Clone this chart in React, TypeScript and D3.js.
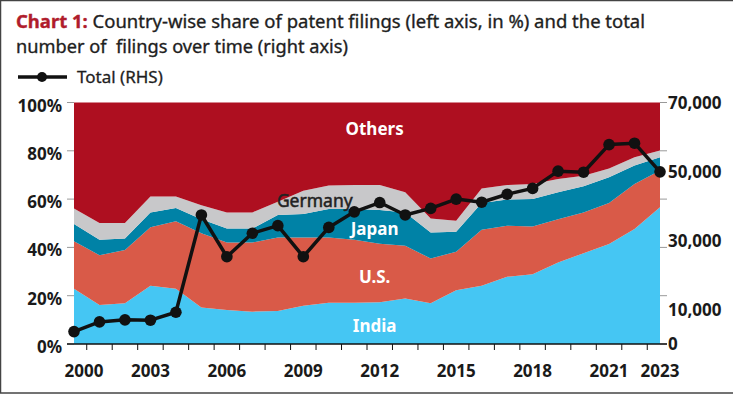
import * as d3 from "d3";

// years on the x axis
const years = [
  2000, 2001, 2002, 2003, 2004, 2005, 2006, 2007, 2008, 2009, 2010, 2011,
  2012, 2013, 2014, 2015, 2016, 2017, 2018, 2019, 2020, 2021, 2022, 2023,
];

// country shares of filings, in %
const indiaShare = [
  22.9, 16.2, 16.9, 24.1, 22.9, 15.1, 14.1, 13.4, 13.7, 15.8, 17.1, 17.1,
  17.3, 18.8, 16.9, 22.3, 24.1, 27.8, 28.9, 33.7, 37.6, 41.4, 47.6, 56.6,
];
const usShare = [
  19.6, 20.6, 22.0, 24.2, 27.9, 30.8, 27.9, 28.6, 30.4, 28.3, 27.0, 26.1,
  24.2, 21.9, 18.5, 15.9, 23.2, 21.2, 19.8, 18.0, 16.9, 17.0, 18.7, 15.2,
];
const japanShare = [
  7.2, 6.4, 4.8, 6.2, 5.5, 5.8, 5.8, 5.8, 9.3, 9.7, 11.8, 12.7,
  14.0, 13.8, 10.8, 8.3, 11.1, 10.8, 11.3, 11.1, 10.8, 10.6, 7.6, 5.5,
];
const germanyShare = [
  6.4, 6.9, 6.4, 6.6, 4.8, 5.8, 6.7, 6.7, 5.5, 9.7, 9.7, 9.9,
  10.3, 8.3, 5.8, 4.5, 6.0, 6.0, 6.3, 5.5, 4.4, 3.7, 3.4, 2.8,
];
const othersShare = [
  43.9, 49.9, 49.9, 38.9, 38.9, 42.5, 45.5, 45.5, 41.1, 36.5, 34.4, 34.2,
  34.2, 37.2, 48.0, 49.0, 35.6, 34.2, 33.7, 31.7, 30.3, 27.3, 22.7, 19.9,
];

// total filings (right axis)
const totalFilings = [
  3600, 6400, 7000, 6900, 9200, 37400, 25300, 32100, 34300, 25300, 33800, 38300,
  41000, 37400, 39300, 42000, 41100, 43400, 45100, 50100, 49800, 57800, 58200, 49900,
];

const leftTicks = [0, 20, 40, 60, 80, 100];
const rightTicks = [0, 10000, 30000, 50000, 70000];
const yearLabels = [2000, 2003, 2006, 2009, 2012, 2015, 2018, 2021, 2023];

const seriesKeys = ["India", "U.S.", "Japan", "Germany", "Others"];
const colors: Record<string, string> = {
  India: "#45c6f3",
  "U.S.": "#d95a48",
  Japan: "#0082a6",
  Germany: "#c8c8ca",
  Others: "#ae0f20",
};

const font = "'Noto Sans', 'Open Sans', sans-serif";
const plot = { left: 74, right: 660, top: 102.5, bottom: 344 };

export default function App() {
  const rows = years.map((year, i) => ({
    year,
    India: indiaShare[i],
    "U.S.": usShare[i],
    Japan: japanShare[i],
    Germany: germanyShare[i],
    Others: othersShare[i],
  }));

  const x = d3.scaleLinear().domain([2000, 2023]).range([plot.left, plot.right]);
  const yLeft = d3.scaleLinear().domain([0, 100]).range([plot.bottom, plot.top]);
  const yRight = d3.scaleLinear().domain([0, 70000]).range([plot.bottom, plot.top]);

  const stacked = d3.stack<any>().keys(seriesKeys)(rows);

  const area = d3
    .area<any>()
    .x((d) => x(d.data.year))
    .y0((d) => yLeft(d[0]))
    .y1((d) => yLeft(d[1]));

  const line = d3
    .line<number>()
    .x((d, i) => x(years[i]))
    .y((d) => yRight(d));

  // tick marks sit between the years
  const betweenTicks = years.slice(0, -1).map((y) => y + 0.5);

  return (
    <svg
      width={733}
      height={396}
      style={{ position: "absolute", left: 0, top: 0, background: "#fff" }}
      fontFamily={font}
    >
      <rect x={0.5} y={0.5} width={760} height={392.5} fill="none" stroke="#444" strokeWidth={1.5} />

      {/* title */}
      <text x={16} y={28} fontSize={18.5} fill="#1e1e1e" stroke="#1e1e1e" strokeWidth={0.35} textLength={629} lengthAdjust="spacingAndGlyphs">
        <tspan fill="#b01c2c" stroke="#b01c2c" fontWeight="bold">Chart 1:</tspan>
        <tspan> Country-wise share of patent filings (left axis, in %) and the total</tspan>
      </text>
      <text x={16} y={53} fontSize={18.5} fill="#1e1e1e" stroke="#1e1e1e" strokeWidth={0.35} textLength={332} lengthAdjust="spacingAndGlyphs" xmlSpace="preserve">
        number of  filings over time (right axis)
      </text>

      {/* legend */}
      <line x1={18} x2={67} y1={77} y2={77} stroke="#111" strokeWidth={3.5} />
      <circle cx={42} cy={77} r={5} fill="#111" />
      <text x={77} y={83} fontSize={17} fill="#1e1e1e" stroke="#1e1e1e" strokeWidth={0.3}>Total (RHS)</text>

      {/* stacked areas */}
      {stacked.map((s) => (
        <path key={s.key} d={area(s) as string} fill={colors[s.key]} />
      ))}

      {/* area labels */}
      <text x={x(2011.8)} y={yLeft(86.5)} textAnchor="middle" fontSize={17} fontWeight="bold" fill="#fff">Others</text>
      <text x={x(2009.45)} y={yLeft(56.9)} textAnchor="middle" fontSize={17.5} fill="#222" stroke="#222" strokeWidth={0.5}>Germany</text>
      <text x={x(2011.8)} y={yLeft(45.1)} textAnchor="middle" fontSize={17} fontWeight="bold" fill="#fff">Japan</text>
      <text x={x(2011.8)} y={yLeft(25.3)} textAnchor="middle" fontSize={17} fontWeight="bold" fill="#fff">U.S.</text>
      <text x={x(2011.8)} y={yLeft(5)} textAnchor="middle" fontSize={17} fontWeight="bold" fill="#fff">India</text>

      {/* left axis */}
      {leftTicks.map((t) => (
        <g key={"l" + t}>
          <line x1={67} x2={plot.left} y1={yLeft(t)} y2={yLeft(t)} stroke="#999" strokeWidth={1} />
          <text x={62} y={yLeft(t) + 9} textAnchor="end" fontSize={17} fontWeight="bold" fill="#1a1a1a">
            {t}%
          </text>
        </g>
      ))}

      {/* right axis: tick marks follow the left gridlines */}
      {leftTicks.map((t) => (
        <line key={"rt" + t} x1={plot.right} x2={667} y1={yLeft(t)} y2={yLeft(t)} stroke="#999" strokeWidth={1} />
      ))}
      {rightTicks.map((t) => (
        <text key={"r" + t} x={668} y={yRight(t) + 6} fontSize={17} fontWeight="bold" fill="#1a1a1a">
          {d3.format(",")(t)}
        </text>
      ))}

      {/* x axis */}
      <line x1={67} x2={667} y1={plot.bottom} y2={plot.bottom} stroke="#111" strokeWidth={1.5} />
      {betweenTicks.map((t) => (
        <line key={"x" + t} x1={x(t)} x2={x(t)} y1={plot.bottom} y2={plot.bottom + 6} stroke="#111" strokeWidth={1} />
      ))}
      {yearLabels.map((yr) => (
        <text
          key={"yl" + yr}
          x={x(yr) + (yr === 2000 ? 10 : 0)}
          y={377}
          textAnchor="middle"
          fontSize={17}
          fontWeight="bold"
          fill="#1a1a1a"
        >
          {yr}
        </text>
      ))}

      {/* total filings line */}
      <path d={line(totalFilings) as string} fill="none" stroke="#111" strokeWidth={3.5} strokeLinejoin="round" />
      {totalFilings.map((v, i) => (
        <circle key={"p" + i} cx={x(years[i])} cy={yRight(v)} r={5.8} fill="#111" />
      ))}
    </svg>
  );
}
